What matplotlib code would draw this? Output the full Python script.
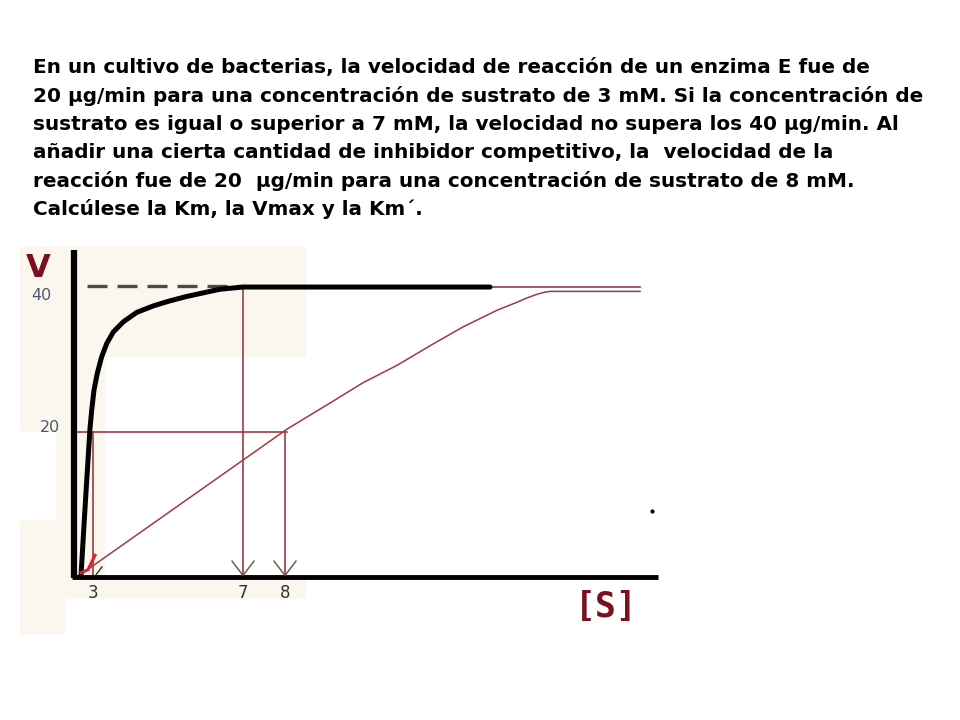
import numpy as np
import matplotlib as mpl
mpl.use('Agg')
import matplotlib.pyplot as plt

# enunciado del problema
texto = [
    "En un cultivo de bacterias, la velocidad de reacción de un enzima E fue de",
    "20 µg/min para una concentración de sustrato de 3 mM. Si la concentración de",
    "sustrato es igual o superior a 7 mM, la velocidad no supera los 40 µg/min. Al",
    "añadir una cierta cantidad de inhibidor competitivo, la  velocidad de la",
    "reacción fue de 20  µg/min para una concentración de sustrato de 8 mM.",
    "Calcúlese la Km, la Vmax y la Km´.",
]

# esquema: eje x en unidades de dibujo (no lineal en [S]), eje y en V (µg/min)
s_ticks = [1.8, 16.8, 21.0]
s_labels = ['3', '7', '8']
v_ticks = [20, 40]
vmax = 40
v_half = 20

# curva sin inhibidor (trazo a mano)
s_normal = [0.6, 1.05, 1.3, 1.5, 1.67, 1.9, 2.23, 2.67, 3.17, 3.83, 4.83,
            6.17, 7.83, 9.5, 11.17, 12.83, 14.5, 16.8, 41.5]
v_normal = [0.2, 10.6, 16.1, 20.5, 23.0, 25.8, 28.1, 30.4, 32.2, 33.8, 35.2,
            36.5, 37.4, 38.1, 38.7, 39.2, 39.7, 40.0, 40.0]

# curva con inhibidor competitivo
s_inhib = [0.2, 21.2, 25.5, 28.8, 32.2, 35.5, 38.8, 42.2, 44.2, 45.2, 46.2,
           47.0, 47.5, 56.5]
v_inhib = [0.0, 20.4, 24.0, 26.8, 29.2, 31.9, 34.5, 36.8, 37.9, 38.5, 39.0,
           39.3, 39.4, 39.4]

rojo = '#9c3a44'
granate = '#7a1020'

fig = plt.figure(figsize=(9.6, 7.2), dpi=100)
fig.patch.set_facecolor('white')

base0 = 73
for i, linea in enumerate(texto):
    fig.text(33 / 960, 1 - (base0 + i * 28.5) / 720, linea, fontsize=14.4,
             fontweight='bold', va='baseline', ha='left', color='black',
             family='DejaVu Sans')

ax = fig.add_axes([20 / 960, 1 - 635 / 720, 640 / 960, 390 / 720])
ax.set_xlim(-5.5, 58.5)
ax.set_ylim(-8.0, 45.8)
ax.axis('off')

# fondo beige suave de la imagen escaneada
beige = '#fbf7ee'
ax.add_patch(plt.Rectangle((-5.5, -8.0), 28.5, 53.5, color=beige, zorder=0))
ax.add_patch(plt.Rectangle((3.0, 0.3), 20.0, 30.0, color='white', zorder=0))
ax.add_patch(plt.Rectangle((-5.5, 8.0), 3.5, 12.0, color='white', zorder=0))
ax.add_patch(plt.Rectangle((-1.0, -8.0), 24.0, 5.0, color='white', zorder=0))

# ejes
ax.plot([-0.1, -0.1], [-0.2, 45.1], color='black', lw=4.5, solid_capstyle='butt', zorder=3)
ax.plot([-0.3, 58.3], [0, 0], color='black', lw=3.5, solid_capstyle='butt', zorder=3)

# Vmax discontinua
ax.plot([1.2, 16.5], [vmax + 0.1, vmax + 0.1], color='#4a4a4a', lw=2.4,
        dashes=(6.0, 3.0), zorder=2)

# curvas
ax.plot(s_normal, v_normal, color='black', lw=3.6, solid_capstyle='round',
        solid_joinstyle='round', zorder=4)
ax.plot([41.5, 56.5], [vmax, vmax], color=rojo, lw=1.2, zorder=2)
ax.plot(s_inhib, v_inhib, color=rojo, lw=1.1, zorder=2)

# líneas de lectura
ax.plot([0.2, s_inhib[1]], [v_half, v_half], color=rojo, lw=1.2, zorder=2)
ax.plot([s_ticks[0], s_ticks[0]], [v_half, 0], color=rojo, lw=1.2, zorder=2)
ax.plot([s_ticks[1], s_ticks[1]], [vmax, 0], color=rojo, lw=1.2, zorder=2)
ax.plot([s_ticks[2], s_ticks[2]], [v_half, 0], color=rojo, lw=1.2, zorder=2)

# puntas de flecha
for s in s_ticks[1:]:
    ax.plot([s - 1.1, s, s + 1.1], [2.2, 0.2, 2.2], color='#6a4a4a', lw=1.0, zorder=3)
ax.plot([s_ticks[0] + 0.3, s_ticks[0] + 0.9], [0.3, 1.4], color='#333333', lw=1.0, zorder=3)
ax.plot([0.6, 1.3, 2.0], [0.6, 1.0, 3.0], color='#e0202a', lw=2.2, zorder=5)

# punto suelto
ax.plot([57.7], [9.1], marker='o', ms=2, color='black')

# textos del esquema
for s, lab in zip(s_ticks, s_labels):
    ax.text(s, -2.2, lab, fontsize=12, color='#333333', ha='center', va='center',
            family='DejaVu Sans')
ax.text(-2.3, 38.9, str(v_ticks[1]), fontsize=11.5, color='#4a5a70', ha='right',
        va='center', family='DejaVu Sans')
ax.text(-1.5, 20.6, str(v_ticks[0]), fontsize=11.5, color='#4a5a70', ha='right',
        va='center', family='DejaVu Sans')
ax.text(-3.7, 42.6, 'V', fontsize=23, color=granate, ha='center', va='center',
        fontweight='bold', family='DejaVu Sans', clip_on=False)
ax.text(53.1, -4.1, '[S]', fontsize=25, color=granate, ha='center', va='center',
        fontweight='bold', family='DejaVu Sans Mono')

fig.savefig('out.png', dpi=100)
